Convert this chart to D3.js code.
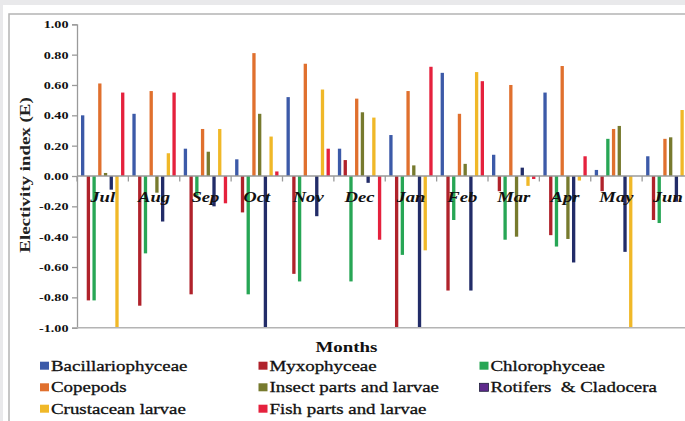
<!DOCTYPE html>
<html><head><meta charset="utf-8">
<script src="https://cdn.jsdelivr.net/npm/d3@7"></script>
<style>
html,body{margin:0;padding:0;background:#e9e9eb;}
svg{display:block;}
</style></head>
<body><svg id="c" width="685" height="421"></svg>
<script>
const months = ["Jul","Aug","Sep","Oct","Nov","Dec","Jan","Feb","Mar","Apr","May","Jun"];
const seriesNames = ["Bacillariophyceae","Myxophyceae","Chlorophyceae","Copepods","Insect parts and larvae","Rotifers  & Cladocera","Crustacean larvae","Fish parts and larvae"];
const bacillariophyceae = [0.40, 0.41, 0.18, 0.11, 0.52, 0.18, 0.27, 0.68, 0.14, 0.55, 0.04, 0.13];
const myxophyceae       = [-0.82, -0.855, -0.78, -0.24, -0.645, 0.105, -1.00, -0.755, -0.10, -0.39, -0.10, -0.29];
const chlorophyceae     = [-0.82, -0.51, -0.13, -0.78, -0.695, -0.695, -0.52, -0.29, -0.42, -0.465, 0.245, -0.31];
const copepods          = [0.61, 0.56, 0.31, 0.81, 0.74, 0.51, 0.56, 0.41, 0.60, 0.725, 0.31, 0.245];
const insectParts       = [0.02, -0.11, 0.16, 0.41, 0.00, 0.42, 0.07, 0.08, -0.40, -0.415, 0.33, 0.255];
const rotifers          = [-0.09, -0.30, -0.20, -1.00, -0.265, -0.045, -1.00, -0.755, 0.055, -0.57, -0.50, -0.17];
const crustaceanLarvae  = [-1.00, 0.15, 0.31, 0.26, 0.57, 0.385, -0.49, 0.685, -0.065, -0.03, -1.00, 0.435];
const fishParts         = [0.55, 0.55, -0.18, 0.03, 0.18, -0.42, 0.72, 0.625, -0.02, 0.13, 0.00, 0.00];
const yTicks = [-1.0, -0.8, -0.6, -0.4, -0.2, 0.0, 0.2, 0.4, 0.6, 0.8, 1.0];

const seriesValues = [bacillariophyceae, myxophyceae, chlorophyceae, copepods, insectParts, rotifers, crustaceanLarvae, fishParts];
const barColors = ["#3c5aa8","#b0222b","#27a655","#e0702e","#777a2e","#222c68","#f0b828","#e5213d"];
const swatchColors = ["#3c5aa8","#b0222b","#27a655","#e0702e","#777a2e","#5e2a8c","#f0b828","#e5213d"];

const serif = "'Liberation Serif','Times New Roman',serif";
const svg = d3.select("#c");

function stretch(sel, k){
  sel.each(function(){
    const L = this.getComputedTextLength();
    this.setAttribute("textLength", L*k);
    this.setAttribute("lengthAdjust","spacingAndGlyphs");
  });
}

// frame
svg.append("rect").attr("x",3).attr("y",5).attr("width",700).attr("height",430).attr("fill","#ffffff");
svg.append("rect").attr("x",9).attr("y",14).attr("width",700).attr("height",430)
  .attr("fill","#ffffff").attr("stroke","#b4b4b4").attr("stroke-width",1.5);

const plotLeft = 77, plotRight = 693.5, plotTop = 24.3, plotBottom = 327.7;
const x0 = d3.scaleBand().domain(months).range([plotLeft, plotRight]).paddingInner(0).paddingOuter(0);
const x1 = d3.scaleBand().domain(d3.range(seriesNames.length)).range([0, x0.bandwidth()])
  .paddingInner(0.42).paddingOuter(0.7);
const y = d3.scaleLinear().domain([-1, 1]).range([plotBottom, plotTop]);

// bars
const g = svg.append("g");
seriesValues.forEach((vals, si) => {
  g.selectAll(null).data(vals.map((v,i)=>({m:months[i], v})))
    .join("rect")
    .attr("x", d => x0(d.m) + x1(si))
    .attr("width", x1.bandwidth())
    .attr("y", d => y(Math.max(0, d.v)))
    .attr("height", d => Math.abs(y(d.v) - y(0)))
    .attr("fill", barColors[si]);
});

// y axis
const ya = svg.append("g").attr("transform", `translate(${plotLeft},0)`)
  .call(d3.axisLeft(y).tickValues(yTicks).tickSize(5).tickPadding(3.5).tickFormat(d => d.toFixed(2)));
ya.select(".domain").attr("stroke","#9a9a9a").attr("stroke-width",1.3);
ya.selectAll(".tick line").attr("stroke","#9a9a9a").attr("stroke-width",1.3);
ya.selectAll(".tick text").attr("font-family", serif).attr("font-weight","bold")
  .attr("font-size", 10.5).attr("fill","#111").call(stretch, 1.35);

// bottom border line
svg.append("line").attr("x1", plotLeft).attr("x2", 700).attr("y1", plotBottom).attr("y2", plotBottom)
  .attr("stroke","#b4b4b4").attr("stroke-width",1.5);

// zero axis
svg.append("line").attr("x1", plotLeft).attr("x2", plotRight).attr("y1", y(0)).attr("y2", y(0))
  .attr("stroke","#9a9a9a").attr("stroke-width",1.5);
svg.append("g").selectAll("line").data(months).join("line")
  .attr("x1", d => x0(d)).attr("x2", d => x0(d))
  .attr("y1", y(0)).attr("y2", y(0) + 5.5)
  .attr("stroke","#9a9a9a").attr("stroke-width",1.3);

// month labels
svg.append("g").selectAll("text").data(months).join("text")
  .attr("x", d => x0(d) + x0.bandwidth()/2).attr("y", 202)
  .attr("text-anchor","middle").attr("font-family", serif)
  .attr("font-weight","bold").attr("font-style","italic").attr("font-size", 15.5)
  .attr("fill","#111").text(d => d).call(stretch, 1.2);

// y axis title
svg.append("text").attr("transform","translate(30,175) rotate(-90)")
  .attr("text-anchor","middle").attr("font-family", serif).attr("font-weight","bold")
  .attr("font-size", 15.5).attr("fill","#222").text("Electivity index (E)").call(stretch, 1.22);

// x axis title
svg.append("text").attr("x", 346.5).attr("y", 352).attr("text-anchor","middle")
  .attr("font-family", serif).attr("font-weight","bold").attr("font-size", 15.5)
  .attr("fill","#111").text("Months").call(stretch, 1.22);

// legend
const colX = [40, 258.5, 479.5];
const rowY = [365.7, 387.3, 408.7];
const lg = svg.append("g");
seriesNames.forEach((name, i) => {
  const cx = colX[i % 3], cy = rowY[Math.floor(i / 3)];
  lg.append("rect").attr("x", cx).attr("y", cy - 4).attr("width", 9).attr("height", 8)
    .attr("fill", swatchColors[i]).attr("stroke", i === 5 ? "#1d1d3a" : "none").attr("stroke-width", 0.8);
  lg.append("text").attr("x", cx + 11).attr("y", cy + 5).attr("font-family", serif)
    .attr("font-size", 15).attr("fill","#111").attr("stroke","#111").attr("stroke-width",0.3)
    .attr("xml:space","preserve").text(name).call(stretch, 1.26);
});
</script></body></html>
